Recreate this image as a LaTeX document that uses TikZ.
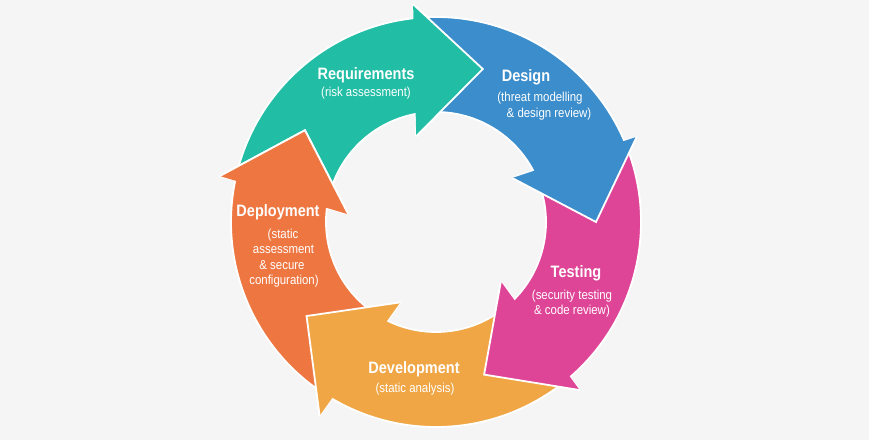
\documentclass[tikz,border=0pt]{standalone}
\usepackage{fontspec}
\setmainfont{Liberation Sans}[FakeStretch=0.88]
\usetikzlibrary{calc}
\definecolor{reqc}{HTML}{21BDA4}
\definecolor{desc}{HTML}{3B8DCB}
\definecolor{tstc}{HTML}{DF4597}
\definecolor{devc}{HTML}{F0A645}
\definecolor{depc}{HTML}{EE7641}
\definecolor{bgc}{HTML}{F5F5F5}
% #1 colour, #2 tip angle of previous arrow, #3 tip angle of this arrow, #4 outer corner radius
\newcommand{\cyclebody}[4]{%
  \filldraw[fill=#1, draw=white, line width=1.8pt, line join=round]
    ($(C)+(#2+21:205)$) arc[start angle=#2+21, end angle=#3+23.3, radius=205]
    -- ($(C)+(#3+23:#4)$) -- ($(C)+(#3:160)$) -- ($(C)+(#3+30:88)$)
    -- ($(C)+(#3+27.7:110)$) arc[start angle=#3+27.7, end angle=#2+26, radius=110]
    -- cycle;}
\newcommand{\cyclehead}[3]{%
  \fill[#1] ($(C)+(#2+23:#3)$) -- ($(C)+(#2:160)$) -- ($(C)+(#2+30:88)$) -- cycle;
  \draw[white, line width=1.8pt, line join=miter]
    ($(C)+(#2+23:#3)$) -- ($(C)+(#2:160)$) -- ($(C)+(#2+30:88)$);}
\tikzset{
  ttl/.style={text=white, anchor=base, inner sep=0pt, font=\fontsize{16.5}{18}\selectfont\bfseries},
  sub/.style={text=white, anchor=base, inner sep=0pt, font=\fontsize{13}{15}\selectfont}
}
\begin{document}
\begin{tikzpicture}[x=1pt, y=1pt]
\useasboundingbox (0,0) rectangle (869,440);
\fill[bgc] (0,0) rectangle (869,440);
\coordinate (C) at (436,218);
% bodies
\cyclebody{reqc}{145}{73}{219}
\cyclebody{desc}{73}{0}{218}
\cyclebody{tstc}{0}{-72.5}{221}
\cyclebody{devc}{-72.5}{-144}{226}
\cyclebody{depc}{-144}{-215}{221}
% heads on top
\cyclehead{reqc}{73}{219}
\cyclehead{desc}{0}{218}
\cyclehead{tstc}{-72.5}{221}
\cyclehead{devc}{-144}{226}
\cyclehead{depc}{-215}{221}
% labels
\node[ttl] (reqT) at (366,360) {Requirements};
\node[sub] (reqS) at (366,343) {(risk assessment)};
\node[ttl] (desT) at (526,358) {Design};
\node[sub] (desS1) at (540,338) {(threat modelling};
\node[sub] (desS2) at (549,323) {\& design review)};
\node[ttl] (tstT) at (576,163) {Testing};
\node[sub] (tstS1) at (572,141) {(security testing};
\node[sub] (tstS2) at (572,126) {\& code review)};
\node[ttl] (devT) at (414,67) {Development};
\node[sub] (devS) at (415,48) {(static analysis)};
\node[ttl] (depT) at (278,224) {Deployment};
\node[sub] (depS1) at (283,202) {(static};
\node[sub] (depS2) at (283.5,187) {assessment};
\node[sub] (depS3) at (282,171) {\& secure};
\node[sub] (depS4) at (284,156) {configuration)};
\end{tikzpicture}
\end{document}
